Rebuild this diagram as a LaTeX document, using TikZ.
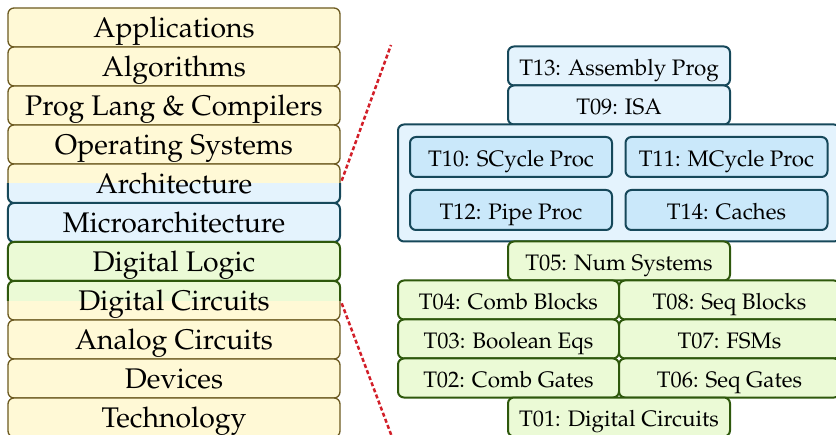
\documentclass[tikz,border=0pt]{standalone}
\usepackage[T1]{fontenc}
\usepackage{mathpazo}
\usepackage{tikz}
\usetikzlibrary{positioning}
\definecolor{ylwfill}{RGB}{255,249,214}
\definecolor{ylwline}{RGB}{108,90,32}
\definecolor{bluefill}{RGB}{228,243,253}
\definecolor{bluedark}{RGB}{202,232,250}
\definecolor{blueline}{RGB}{22,72,90}
\definecolor{grnfill}{RGB}{235,250,214}
\definecolor{grnline}{RGB}{46,88,12}
\definecolor{zoomred}{RGB}{210,30,40}

\begin{document}
\begin{tikzpicture}[x=1bp, y=-1bp,
    layer/.style={rounded corners=6bp, minimum width=332bp, minimum height=39bp,
      inner sep=0pt, text height=19.5bp, text depth=0pt, font=\fontsize{28.5}{28.5}\selectfont},
    swlayer/.style={layer, fill=ylwfill, draw=ylwline, line width=1.3bp},
    archlayer/.style={layer, fill=bluefill, draw=blueline, line width=2bp},
    logiclayer/.style={layer, fill=grnfill, draw=grnline, line width=2bp},
    topic/.style={rounded corners=6bp, minimum width=222bp, minimum height=39bp,
      inner sep=0pt, line width=2bp, text height=19.5bp, text depth=0pt, font=\fontsize{22.5}{22.5}\selectfont},
    archtopic/.style={topic, fill=bluefill, draw=blueline},
    proctopic/.style={topic, fill=bluedark, draw=blueline, minimum width=202bp, minimum height=40bp},
    logictopic/.style={topic, fill=grnfill, draw=grnline},
    zoomline/.style={draw=zoomred, line width=2.5bp, dash pattern=on 4bp off 2.5bp}]
  \clip (0,0) rectangle (836,435);
  % stack
  \node[swlayer]    (app)  at (174,27.5)  {Applications};
  \node[swlayer]    (alg)  at (174,66.5)  {Algorithms};
  \node[swlayer]    (plc)  at (174,105.5) {Prog Lang \& Compilers};
  \node[swlayer]    (os)   at (174,144.5) {Operating Systems};
  \node[swlayer]    (arch) at (174,183.5) {Architecture};
  \node[archlayer]  (uarch) at (174,222.5) {Microarchitecture};
  \node[logiclayer] (dlog) at (174,261.5) {Digital Logic};
  \node[swlayer]    (dcir) at (174,300.5) {Digital Circuits};
  \node[swlayer]    (acir) at (174,339.5) {Analog Circuits};
  \node[swlayer]    (dev)  at (174,378.5) {Devices};
  \node[swlayer]    (tech) at (174,417.5) {Technology};
  % split layers
  \begin{scope}
    \clip (0,183.5) rectangle (350,210);
    \node[archlayer] (archlow) at (arch) {Architecture};
  \end{scope}
  \begin{scope}
    \clip (0,275) rectangle (350,300.5);
    \node[logiclayer] (dcirup) at (dcir) {Digital Circuits};
  \end{scope}
  % architecture topics
  \node[archtopic] (t13) at (619,66)  {T13: Assembly Prog};
  \node[archtopic] (t09) at (619,105) {T09: ISA};
  \node[archtopic, minimum width=442bp, minimum height=117bp] (proc) at (619,183) {};
  \node[proctopic] (t10) at (511,157)   {T10: SCycle Proc};
  \node[proctopic] (t11) at (726.5,157) {T11: MCycle Proc};
  \node[proctopic] (t12) at (511,210)   {T12: Pipe Proc};
  \node[proctopic] (t14) at (726.5,210) {T14: Caches};
  % digital logic topics
  \node[logictopic] (t05) at (619,261)   {T05: Num Systems};
  \node[logictopic, minimum width=221bp] (t04) at (508.5,300) {T04: Comb Blocks};
  \node[logictopic, minimum width=221bp] (t08) at (729.5,300) {T08: Seq Blocks};
  \node[logictopic, minimum width=221bp] (t03) at (508.5,339) {T03: Boolean Eqs};
  \node[logictopic, minimum width=221bp] (t07) at (729.5,339) {T07: FSMs};
  \node[logictopic, minimum width=221bp] (t02) at (508.5,378) {T02: Comb Gates};
  \node[logictopic, minimum width=221bp] (t06) at (729.5,378) {T06: Seq Gates};
  \node[logictopic] (t01) at (619,417)   {T01: Digital Circuits};
  % zoom lines
  \coordinate (zoomtop) at (391,45);
  \coordinate (zoombot) at (392,437);
  \draw[zoomline, shorten <=3bp] (arch.east) -- (zoomtop);
  \draw[zoomline, shorten <=3bp] (dcir.east) -- (zoombot);
\end{tikzpicture}
\end{document}
